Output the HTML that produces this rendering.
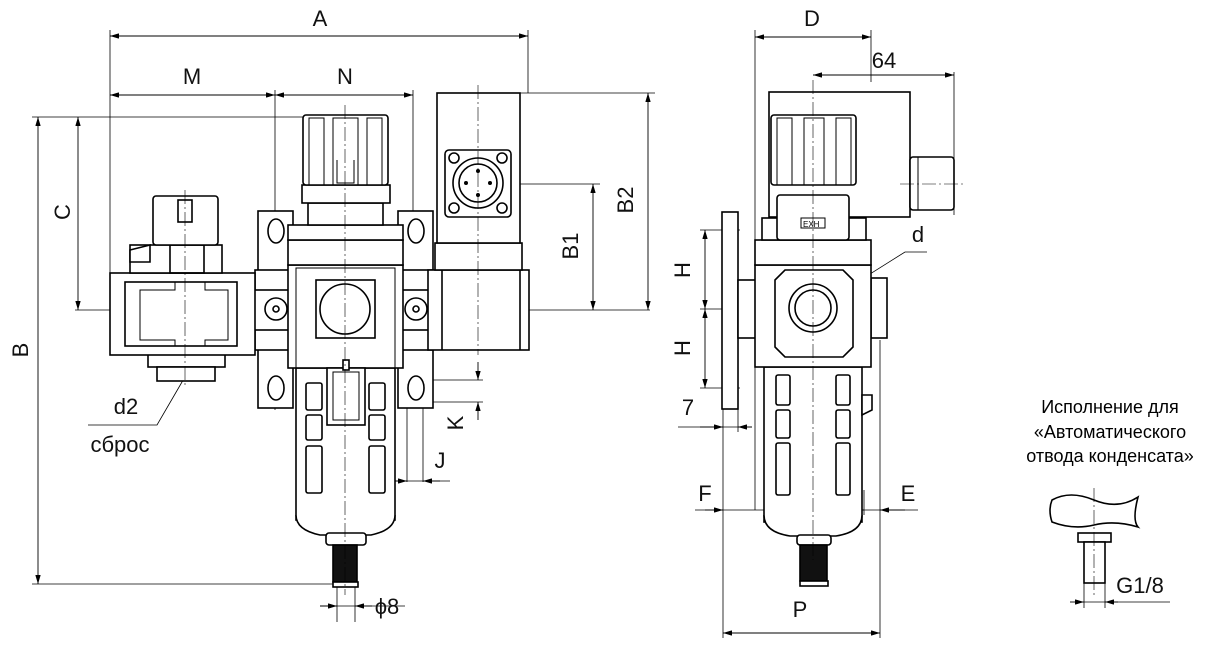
<!DOCTYPE html>
<html><head><meta charset="utf-8"><style>
html,body{margin:0;padding:0;background:#fff}
svg{display:block}
.t{font-family:"Liberation Sans",sans-serif;font-size:22px;fill:#111}
.r{font-family:"Liberation Sans","Noto Sans CJK SC",sans-serif;font-size:18px;fill:#000}
</style></head><body>
<svg width="1228" height="651" viewBox="0 0 1228 651" xmlns="http://www.w3.org/2000/svg">
<defs>
<marker id="a" viewBox="0 0 10 6" refX="10" refY="3" markerWidth="10" markerHeight="6" orient="auto-start-reverse"><path d="M0,0L10,3L0,6z" fill="#000"/></marker>
</defs>
<!-- thin lines -->
<g stroke="#000" stroke-width="0.8" fill="none">
<line x1="110" y1="30" x2="110" y2="310"/><line x1="528" y1="30" x2="528" y2="93"/>
<line x1="275" y1="90" x2="275" y2="410"/><line x1="413" y1="90" x2="413" y2="400"/>
<line x1="32" y1="117" x2="303" y2="117"/><line x1="75" y1="310" x2="650" y2="310"/>
<line x1="32" y1="584" x2="335" y2="584"/>
<line x1="437" y1="93" x2="655" y2="93"/><line x1="480" y1="184" x2="600" y2="184"/>
<line x1="400" y1="380" x2="483" y2="380"/><line x1="400" y1="402" x2="483" y2="402"/>
<line x1="407" y1="385" x2="407" y2="482"/><line x1="423" y1="385" x2="423" y2="482"/>
<line x1="396" y1="481" x2="450" y2="481"/>
<line x1="337" y1="586" x2="337" y2="622"/><line x1="355" y1="586" x2="355" y2="622"/>
<line x1="320" y1="606" x2="405" y2="606"/>
<polyline points="182,382 157,425 88,425"/>
<line x1="755" y1="30" x2="755" y2="510"/><line x1="871" y1="30" x2="871" y2="82"/>
<line x1="954" y1="72" x2="954" y2="215"/>
<line x1="700" y1="230" x2="740" y2="230"/><line x1="700" y1="309" x2="760" y2="309"/><line x1="700" y1="388" x2="740" y2="388"/>
<line x1="678" y1="427" x2="752" y2="427"/><line x1="738" y1="400" x2="738" y2="432"/>
<line x1="723" y1="400" x2="723" y2="638"/><line x1="880" y1="340" x2="880" y2="638"/>
<line x1="864" y1="490" x2="864" y2="515"/>
<line x1="695" y1="510" x2="918" y2="510"/>
<polyline points="927,252 905,252 800,318"/>
<line x1="1084" y1="583" x2="1084" y2="608"/><line x1="1105" y1="583" x2="1105" y2="608"/>
<line x1="1084" y1="602" x2="1170" y2="602"/>
</g>
<!-- dimension arrows -->
<g stroke="#000" stroke-width="0.9" fill="none" marker-start="url(#a)" marker-end="url(#a)">
<line x1="110" y1="36" x2="528" y2="36"/>
<line x1="110" y1="95" x2="275" y2="95"/><line x1="275" y1="95" x2="413" y2="95"/>
<line x1="38" y1="117" x2="38" y2="584"/><line x1="78" y1="117" x2="78" y2="310"/>
<line x1="593" y1="184" x2="593" y2="310"/><line x1="648" y1="93" x2="648" y2="310"/>
<line x1="755" y1="37" x2="871" y2="37"/><line x1="813" y1="75" x2="954" y2="75"/>
<line x1="705" y1="230" x2="705" y2="309"/><line x1="705" y1="309" x2="705" y2="388"/>
<line x1="723" y1="633" x2="880" y2="633"/>
</g>
<g stroke="#000" stroke-width="0.9" marker-end="url(#a)">
<line x1="478" y1="362" x2="478" y2="380"/><line x1="478" y1="420" x2="478" y2="402"/>
<line x1="390" y1="481" x2="407" y2="481"/><line x1="440" y1="481" x2="423" y2="481"/>
<line x1="320" y1="606" x2="337" y2="606"/><line x1="372" y1="606" x2="355" y2="606"/>
<line x1="700" y1="427" x2="723" y2="427"/><line x1="752" y1="427" x2="738" y2="427"/>
<line x1="705" y1="510" x2="723" y2="510"/><line x1="780" y1="510" x2="800" y2="510"/>
<line x1="905" y1="510" x2="880" y2="510"/><line x1="845" y1="510" x2="864" y2="510"/>
<line x1="1070" y1="602" x2="1084" y2="602"/><line x1="1118" y1="602" x2="1105" y2="602"/>
<line x1="190" y1="365" x2="182" y2="382"/>
</g>
<!-- main drawing: left view -->
<g stroke="#000" stroke-width="1.6" fill="#fff">
<rect x="258" y="211" width="35" height="197"/><rect x="398" y="211" width="35" height="197"/>
<ellipse cx="276" cy="231" rx="8" ry="12"/><ellipse cx="276" cy="388" rx="8" ry="12"/>
<ellipse cx="416" cy="231" rx="8" ry="12"/><ellipse cx="416" cy="388" rx="8" ry="12"/>
<rect x="255" y="270" width="35" height="80"/><rect x="398" y="270" width="35" height="80"/>
<rect x="237" y="290" width="220" height="40"/>
<rect x="148" y="354" width="77" height="13"/><rect x="157" y="367" width="58" height="14"/>
<rect x="110" y="273" width="145" height="82"/>
<rect x="125" y="282" width="112" height="64"/>
<path d="M140,290H175V282H205V290H228V340H205V346H175V340H140Z" fill="none" stroke-width="1"/>
<rect x="130" y="245" width="92" height="28"/>
<path d="M130,250L150,245V262H130Z" fill="#fff"/>
<rect x="170" y="245" width="34" height="28" fill="none"/>
<rect x="153" y="196" width="65" height="49" rx="3"/>
<rect x="178" y="200" width="14" height="22"/>
<rect x="296" y="368" width="99" height="152"/>
<path d="M296,515Q296,530 320,535H371Q395,530 395,515" />
<rect x="288" y="265" width="115" height="103"/>
<rect x="296" y="268" width="99" height="100" fill="none" stroke-width="1"/>
<rect x="288" y="240" width="115" height="25"/>
<rect x="288" y="225" width="115" height="15"/>
<rect x="308" y="203" width="75" height="22"/>
<rect x="302" y="185" width="88" height="18"/>
<rect x="303" y="115" width="85" height="70" rx="3"/>
<rect x="309" y="118" width="15" height="67" fill="none" stroke-width="1"/>
<rect x="333" y="118" width="25" height="67" fill="none" stroke-width="1"/>
<rect x="367" y="118" width="15" height="67" fill="none" stroke-width="1"/>
<path d="M337,160V183H354V160" fill="none" stroke-width="1"/>
<rect x="316" y="280" width="59" height="58"/>
<circle cx="345" cy="309" r="25"/>
<circle cx="276" cy="309" r="11"/><circle cx="276" cy="309" r="3"/>
<circle cx="416" cy="309" r="11"/><circle cx="416" cy="309" r="3"/>
<rect x="306" y="383" width="16" height="27" rx="2"/><rect x="306" y="415" width="16" height="25" rx="2"/><rect x="306" y="446" width="16" height="47" rx="2"/>
<rect x="369" y="383" width="16" height="27" rx="2"/><rect x="369" y="415" width="16" height="25" rx="2"/><rect x="369" y="446" width="16" height="47" rx="2"/>
<rect x="327" y="368" width="38" height="57"/>
<rect x="333" y="372" width="26" height="48" fill="none" stroke-width="1"/>
<rect x="343" y="360" width="6" height="10"/>
<rect x="326" y="533" width="40" height="12" rx="3"/>
<rect x="333" y="545" width="24" height="37" fill="#111"/>
<rect x="333" y="582" width="25" height="5"/>
<rect x="428" y="270" width="101" height="80"/>
<line x1="442" y1="270" x2="442" y2="350"/><line x1="520" y1="270" x2="520" y2="350"/>
<rect x="435" y="243" width="87" height="27"/>
<rect x="437" y="93" width="83" height="150"/>
<rect x="445" y="150" width="66" height="67" rx="4"/>
<circle cx="478" cy="183" r="25"/><circle cx="478" cy="183" r="19"/>
<circle cx="454" cy="158" r="5"/><circle cx="502" cy="158" r="5"/><circle cx="454" cy="208" r="5"/><circle cx="502" cy="208" r="5"/>
</g>
<g fill="#000"><circle cx="478" cy="171" r="2"/><circle cx="478" cy="195" r="2"/><circle cx="466" cy="183" r="2"/><circle cx="490" cy="183" r="2"/></g>
<!-- right view -->
<g stroke="#000" stroke-width="1.6" fill="#fff">
<rect x="769" y="92" width="141" height="125"/>
<rect x="910" y="157" width="44" height="53" rx="3"/>
<line x1="918" y1="157" x2="918" y2="210" stroke-width="1"/>
<rect x="722" y="212" width="16" height="197"/>
<rect x="738" y="280" width="18" height="58"/>
<rect x="871" y="278" width="16" height="60"/>
<rect x="764" y="367" width="98" height="155"/>
<path d="M764,515Q764,532 790,536H836Q862,532 862,515"/>
<path d="M862,395H872V410L862,415Z"/>
<rect x="755" y="265" width="116" height="102"/>
<path d="M775,280L785,270H843L853,280V347L843,357H785L775,347Z"/>
<circle cx="813" cy="308" r="24"/><circle cx="813" cy="308" r="18"/>
<rect x="755" y="240" width="116" height="25"/>
<rect x="762" y="218" width="104" height="22"/>
<rect x="777" y="195" width="72" height="45" rx="3"/>
<rect x="771" y="115" width="85" height="70" rx="3"/>
<rect x="777" y="118" width="15" height="67" fill="none" stroke-width="1"/>
<rect x="804" y="118" width="20" height="67" fill="none" stroke-width="1"/>
<rect x="836" y="118" width="15" height="67" fill="none" stroke-width="1"/>
<rect x="801" y="218" width="24" height="10" stroke-width="1"/>
<rect x="776" y="375" width="14" height="30" rx="2"/><rect x="776" y="410" width="14" height="28" rx="2"/><rect x="776" y="443" width="14" height="52" rx="2"/>
<rect x="836" y="375" width="14" height="30" rx="2"/><rect x="836" y="410" width="14" height="28" rx="2"/><rect x="836" y="443" width="14" height="52" rx="2"/>
<rect x="797" y="535" width="34" height="10" rx="3"/>
<rect x="800" y="545" width="27" height="36" fill="#111"/>
<rect x="800" y="581" width="28" height="5"/>
<path d="M1052,500Q1070,490 1094,500T1138,497Q1132,520 1138,527Q1115,520 1094,525T1052,522Q1048,510 1052,500Z"/>
<rect x="1078" y="533" width="33" height="9"/>
<rect x="1084" y="542" width="21" height="41"/>
</g>
<!-- centre lines -->
<g stroke="#000" stroke-width="0.6" fill="none" stroke-dasharray="14,3,2,3">
<line x1="345" y1="105" x2="345" y2="595"/>
<line x1="478" y1="85" x2="478" y2="355"/>
<line x1="185" y1="190" x2="185" y2="385"/>
<line x1="813" y1="80" x2="813" y2="560"/>
<line x1="900" y1="184" x2="965" y2="184"/>
<line x1="1094" y1="488" x2="1094" y2="595"/>
</g>
<text x="803" y="227" font-family="Liberation Sans,sans-serif" font-size="8">EXH</text>
<g class="t">
<text x="320" y="26" text-anchor="middle">A</text>
<text x="192" y="84" text-anchor="middle">M</text>
<text x="345" y="84" text-anchor="middle">N</text>
<text x="126" y="414" text-anchor="middle">d2</text>
<text x="120" y="452" text-anchor="middle">сброс</text>
<text x="387" y="614" text-anchor="middle">ϕ8</text>
<text x="812" y="26" text-anchor="middle">D</text>
<text x="884" y="68" text-anchor="middle">64</text>
<text x="918" y="242" text-anchor="middle">d</text>
<text x="688" y="415" text-anchor="middle">7</text>
<text x="705" y="501" text-anchor="middle">F</text>
<text x="908" y="501" text-anchor="middle">E</text>
<text x="800" y="617" text-anchor="middle">P</text>
<text x="1140" y="593" text-anchor="middle">G1/8</text>
<text transform="translate(28,350) rotate(-90)" text-anchor="middle">B</text>
<text transform="translate(70,212) rotate(-90)" text-anchor="middle">C</text>
<text transform="translate(578,246) rotate(-90)" text-anchor="middle">B1</text>
<text transform="translate(633,200) rotate(-90)" text-anchor="middle">B2</text>
<text transform="translate(463,423) rotate(-90)" text-anchor="middle">K</text>
<text x="440" y="468" text-anchor="middle">J</text>
<text transform="translate(690,270) rotate(-90)" text-anchor="middle">H</text>
<text transform="translate(690,348) rotate(-90)" text-anchor="middle">H</text>
</g>
<g class="r" text-anchor="middle">
<text x="1110" y="413">Исполнение для</text>
<text x="1110" y="438">«Автоматического</text>
<text x="1110" y="462">отвода конденсата»</text>
</g>
</svg>
</body></html>
